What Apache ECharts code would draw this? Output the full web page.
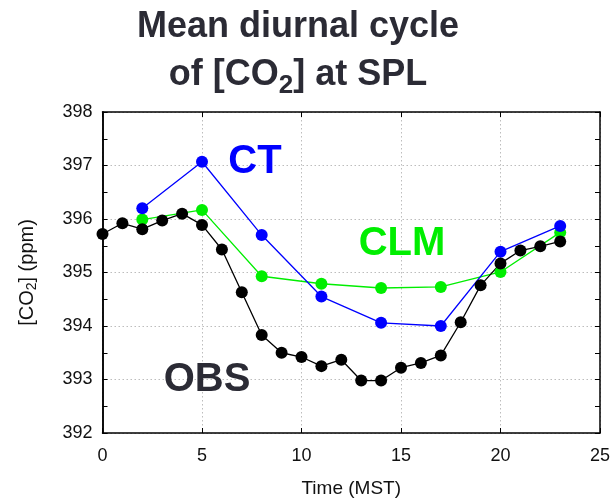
<!DOCTYPE html>
<html>
<head>
<meta charset="utf-8">
<script src="https://cdn.jsdelivr.net/npm/echarts@6/dist/echarts.min.js"></script>
<style>
  html, body { margin: 0; padding: 0; background: #fff; }
  #chart { width: 616px; height: 503px; }
</style>
</head>
<body>
<div id="chart"></div>
<script>
  // hourly observations, model output every 3 h
  var obsHours = [0, 1, 2, 3, 4, 5, 6, 7, 8, 9, 10, 11, 12, 13, 14, 15, 16, 17, 18, 19, 20, 21, 22, 23];
  var obsValues = [395.72, 395.92, 395.81, 395.97, 396.10, 395.89, 395.43, 394.63, 393.83, 393.50, 393.42, 393.25,
                   393.37, 392.98, 392.98, 393.22, 393.31, 393.45, 394.07, 394.76, 395.17, 395.41, 395.49, 395.58];
  var modelHours = [2, 5, 8, 11, 14, 17, 20, 23];
  var ctValues = [396.20, 397.07, 395.70, 394.55, 394.06, 394.00, 395.39, 395.87];
  var clmValues = [395.99, 396.17, 394.93, 394.79, 394.71, 394.73, 395.01, 395.75];

  function pairs(xs, ys) {
    return xs.map(function (x, i) { return [x, ys[i]]; });
  }

  var font = '"Liberation Sans", Arial, sans-serif';
  var dark = '#2b2b35';

  function tag(text, coord, color) {
    return {
      symbol: 'circle',
      symbolSize: 1,
      itemStyle: { color: 'rgba(0,0,0,0)' },
      label: {
        show: true, position: 'inside', color: color,
        fontSize: 40, fontWeight: 'bold', fontFamily: font
      },
      data: [{ coord: coord, value: text }]
    };
  }

  function line(name, data, color, mark) {
    return {
      name: name,
      type: 'line',
      data: data,
      symbol: 'circle',
      symbolSize: 12,
      itemStyle: { color: color },
      lineStyle: { color: color, width: 1.3 },
      markPoint: mark,
      animation: false
    };
  }

  // frame axes: only ticks, no labels
  function tickAxis(pos, min, max, step) {
    return {
      type: 'value', position: pos, min: min, max: max, interval: step,
      axisLine: { show: true, lineStyle: { color: '#000', width: 1.5 } },
      axisTick: { show: true, inside: true, length: 5, lineStyle: { color: '#000' } },
      axisLabel: { show: false },
      splitLine: { show: false }
    };
  }

  var grid = { color: '#bdbdbd', type: [1.5, 2.5], width: 1 };

  var chart = echarts.init(document.getElementById('chart'));
  chart.setOption({
    backgroundColor: '#fff',
    title: {
      text: 'Mean diurnal cycle\nof [CO{s|2}] at SPL',
      left: 298,
      top: 3,
      padding: 0,
      textAlign: 'center',
      textStyle: {
        fontFamily: font, fontSize: 36, fontWeight: 'bold', color: dark, lineHeight: 48,
        rich: {
          s: { fontFamily: font, fontSize: 26, fontWeight: 'bold', color: dark,
               lineHeight: 22, verticalAlign: 'bottom' }
        }
      }
    },
    grid: { left: 102.5, right: 16, top: 112, bottom: 69 },
    xAxis: [{
      type: 'value', min: 0, max: 25, interval: 5,
      name: 'Time (MST)', nameLocation: 'middle', nameGap: 46,
      nameTextStyle: { fontFamily: font, fontSize: 19, color: '#111' },
      axisLine: { lineStyle: { color: '#000', width: 1.5 } },
      axisTick: { inside: true, length: 5, lineStyle: { color: '#000' } },
      axisLabel: { fontFamily: font, fontSize: 18, color: '#111', margin: 14 },
      splitLine: { show: true, lineStyle: grid }
    }, tickAxis('top', 0, 25, 5)],
    yAxis: [{
      type: 'value', min: 392, max: 398, interval: 1,
      name: '[CO{s|2}] (ppm)', nameLocation: 'middle', nameGap: 63, nameRotate: 90,
      nameTextStyle: {
        fontFamily: font, fontSize: 20, color: '#111', lineHeight: 24,
        rich: { s: { fontFamily: font, fontSize: 14, color: '#111', lineHeight: 12, verticalAlign: 'bottom' } }
      },
      axisLine: { show: true, lineStyle: { color: '#000', width: 1.5 } },
      axisTick: { show: false },
      axisLabel: { fontFamily: font, fontSize: 18, color: '#111', margin: 10 },
      splitLine: { show: true, lineStyle: grid }
    }, tickAxis('left', 392, 398, 0.5), tickAxis('right', 392, 398, 0.5)],
    series: [
      line('CLM', pairs(modelHours, clmValues), '#00ee00', tag('CLM', [15.05, 395.54], '#00ee00')),
      line('CT', pairs(modelHours, ctValues), '#0000ff', tag('CT', [7.66, 397.07], '#0000ff')),
      line('OBS', pairs(obsHours, obsValues), '#000000', tag('OBS', [5.25, 392.99], dark))
    ]
  });
</script>
</body>
</html>
